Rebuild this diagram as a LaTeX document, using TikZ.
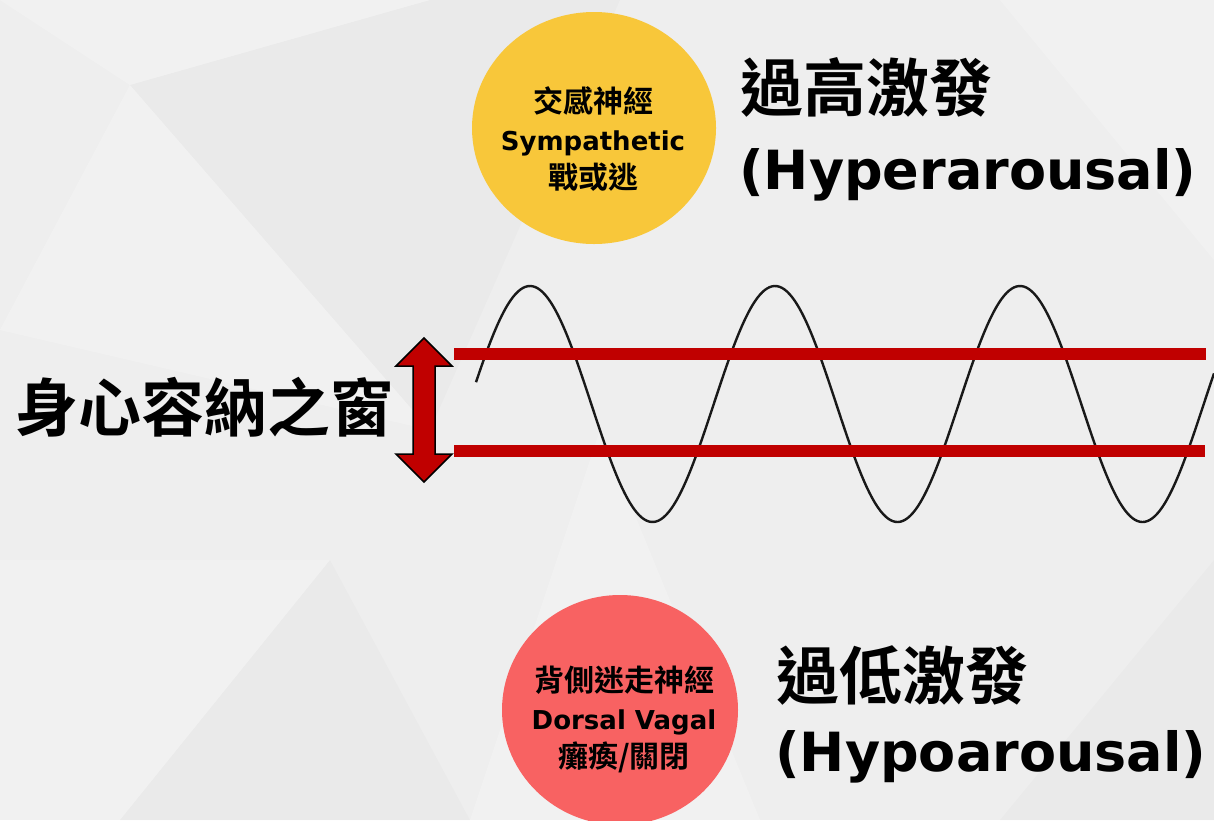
\documentclass[tikz,border=0pt]{standalone}
\usepackage{fontspec}
\newfontfamily\cjk{Noto Sans CJK TC}[BoldFont=* Bold]
\newfontfamily\lat{DejaVu Sans}
\setmainfont{DejaVu Sans}
\usetikzlibrary{shapes.geometric}
\definecolor{bgcol}{HTML}{EEEEEE}
\definecolor{sunyellow}{HTML}{F8C73A}
\definecolor{coral}{HTML}{F86262}
\definecolor{barred}{HTML}{C00000}
\tikzset{
  bigcjk/.style={font=\cjk\bfseries\fontsize{63}{66}\selectfont, inner sep=0pt, anchor=base west},
  biglat/.style={font=\lat\bfseries\fontsize{54}{60}\selectfont, inner sep=0pt, anchor=base west},
  blob/.style={ellipse, inner sep=0pt, draw=none},
  blobtext/.style={font=\cjk\bfseries\fontsize{30}{38}\selectfont, align=center, inner sep=0pt},
  bar/.style={line width=12pt, draw=barred},
  wave/.style={line width=2.4pt, draw=black!90},
  facet/.style={fill=white, fill opacity=0.22, draw=none},
  shade/.style={fill=black, fill opacity=0.015, draw=none},
}
\begin{document}
\begin{tikzpicture}[x=1pt, y=-1pt]
\useasboundingbox (0,0) rectangle (1214,820);
\clip (0,0) rectangle (1214,820);
% background
\fill[bgcol] (0,0) rectangle (1214,820);
\fill[facet] (0,0) -- (430,0) -- (130,85) -- cycle;
\fill[facet] (130,85) -- (0,330) -- (430,430) -- cycle;
\fill[shade] (130,85) -- (430,0) -- (620,0) -- (430,430) -- cycle;
\fill[facet] (0,560) -- (330,560) -- (120,820) -- (0,820) -- cycle;
\fill[shade] (330,560) -- (470,820) -- (120,820) -- cycle;
\fill[facet] (1214,0) -- (1000,0) -- (1214,260) -- cycle;
\fill[shade] (1214,560) -- (1000,820) -- (1214,820) -- cycle;
\fill[facet] (600,430) -- (760,820) -- (470,820) -- cycle;

% circles
\node[blob, fill=sunyellow, minimum width=244pt, minimum height=232pt] (sym) at (594,128) {};
\node[blob, fill=coral, minimum width=236pt, minimum height=230pt] (dor) at (620,710) {};
\node[blobtext] (symtxt) at (593,139) {交感神經\\{\lat\bfseries\fontsize{26}{38}\selectfont Sympathetic}\\戰或逃};
\node[blobtext] (dortxt) at (624,719) {背側迷走神經\\{\lat\bfseries\fontsize{26}{38}\selectfont Dorsal Vagal}\\癱瘓/關閉};

% titles
\node[bigcjk] (hyper) at (740,111) {過高激發};
\node[biglat] (hyperen) at (739,189) {(Hyperarousal)};
\node[bigcjk] (hypo) at (776,699) {過低激發};
\node[biglat] (hypoen) at (775,771) {(Hypoarousal)};
\node[bigcjk] (window) at (15,431) {身心容納之窗};

% wave
\draw[wave] plot[domain=476:1214, samples=300, smooth] (\x, {404-118*cos((\x-530)/245*360)});

% bars
\coordinate (t1) at (454,354); \coordinate (t2) at (1206,354);
\coordinate (b1) at (454,451); \coordinate (b2) at (1205,451);
\draw[bar] (t1) -- (t2);
\draw[bar] (b1) -- (b2);

% double arrow
\path[draw=black, line width=1.5pt, fill=barred, line join=miter]
  (424,338) -- (452,366) -- (435,366) -- (435,454) -- (452,454) -- (424,482)
  -- (396,454) -- (413,454) -- (413,366) -- (396,366) -- cycle;
\end{tikzpicture}
\end{document}
